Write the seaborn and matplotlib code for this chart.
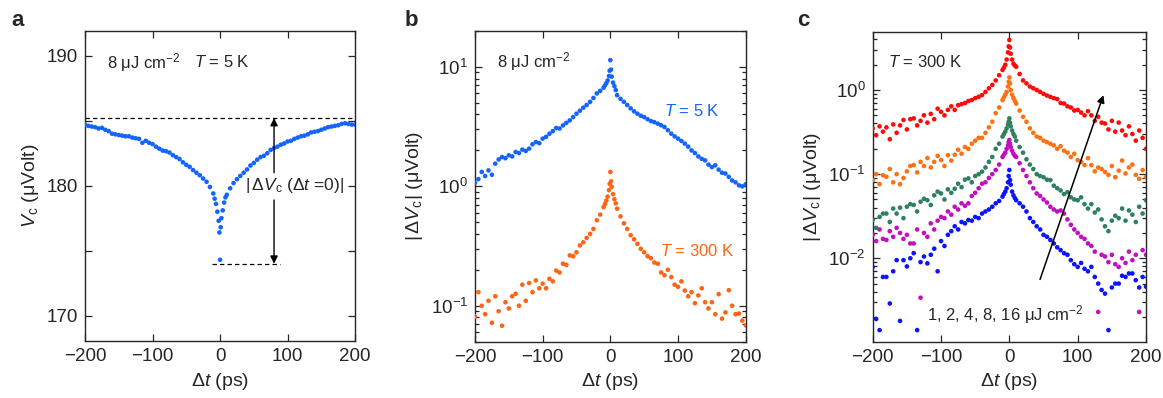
import numpy as np
import pandas as pd
import matplotlib.pyplot as plt
import seaborn as sns
from matplotlib.ticker import MultipleLocator, LogLocator, NullFormatter

sns.set_style("ticks")
plt.rcParams["font.family"] = ["Liberation Sans", "DejaVu Sans"]
plt.rcParams["mathtext.fontset"] = "custom"
plt.rcParams["mathtext.rm"] = "Liberation Sans"
plt.rcParams["mathtext.it"] = "Liberation Sans:italic"
plt.rcParams["mathtext.bf"] = "Liberation Sans:bold"
plt.rcParams["axes.unicode_minus"] = True

# delay grid (ps), shared by all series
delay = [-200, -195, -190, -185, -180, -175, -170, -165, -160, -155, -150, -145, -140,
         -135, -130, -125, -120, -115, -110, -105, -100, -95, -90, -85, -80, -75, -70,
         -65, -60, -55, -50, -45, -40, -35, -30, -25, -20, -15, -10,
         -8, -6, -4, -2, -1, 0, 1, 2, 4, 6, 8,
         10, 15, 20, 25, 30, 35, 40, 45, 50, 55, 60, 65, 70, 75, 80, 85, 90, 95, 100,
         105, 110, 115, 120, 125, 130, 135, 140, 145, 150, 155, 160, 165, 170, 175, 180,
         185, 190, 195, 200]

# panel a: Vc at T = 5 K (uV)
vc_5k = [184.7, 184.6, 184.55, 184.5, 184.4, 184.45, 184.3, 184.2, 184.0, 183.95, 183.9,
         183.85, 183.8, 183.8, 183.7, 183.65, 183.6, 183.3, 183.45, 183.3, 183.2, 183.0,
         182.85, 182.7, 182.65, 182.55, 182.35, 182.2, 182.05, 181.8, 181.6, 181.45, 181.2,
         181.0, 180.8, 180.55, 180.3, 179.9, 179.4,
         179.0, 178.6, 178.0, 177.3, 176.4, 174.3, 176.8, 177.5, 178.1, 178.7, 179.1,
         179.3, 179.8, 180.2, 180.5, 180.75, 181.0, 181.25, 181.55, 181.75, 182.0, 182.2,
         182.3, 182.5, 182.75, 182.9, 183.0, 183.15, 183.25, 183.4, 183.45, 183.6, 183.7,
         183.8, 183.85, 183.95, 184.1, 184.15, 184.2, 184.3, 184.4, 184.5, 184.55, 184.6,
         184.65, 184.75, 184.8, 184.75, 184.7, 184.7]
ref_level = 185.2
min_level = 174.0

# panel b: |dVc| at 8 uJ/cm2
dv_5k = [1.07, 1.15, 1.32, 1.22, 1.36, 1.25, 1.55, 1.68, 1.76, 1.72, 1.82, 1.78, 1.94,
         1.90, 2.03, 1.98, 2.07, 2.25, 2.35, 2.30, 2.51, 2.60, 2.76, 2.90, 3.08, 3.05, 3.24,
         3.40, 3.57, 3.80, 4.06, 4.30, 4.56, 4.80, 5.10, 5.50, 6.0, 6.3, 6.7,
         7.0, 7.3, 7.7, 8.4, 9.3, 11.4, 9.5, 8.3, 7.4, 6.9, 6.4,
         5.8, 5.4, 5.1, 4.8, 4.5, 4.25, 4.06, 3.90, 3.80, 3.65, 3.52, 3.45, 3.35, 3.25, 3.14,
         2.95, 2.76, 2.62, 2.51, 2.40, 2.28, 2.15, 2.00, 1.90, 1.78, 1.70, 1.65, 1.52, 1.45,
         1.50, 1.38, 1.30, 1.28, 1.20, 1.12, 1.08, 1.02, 1.00, 1.04]
dv_300k = [0.081, 0.13, 0.10, 0.085, 0.11, 0.072, 0.12, 0.09, 0.068, 0.107, 0.095, 0.12,
           0.126, 0.10, 0.15, 0.11, 0.155, 0.13, 0.163, 0.14, 0.153, 0.14, 0.168, 0.16,
           0.197, 0.19, 0.225, 0.22, 0.264, 0.26, 0.28, 0.32, 0.34, 0.37, 0.40, 0.44, 0.52,
           0.58, 0.67,
           0.71, 0.76, 0.82, 0.93, 1.05, 1.32, 1.10, 0.99, 0.86, 0.78, 0.72,
           0.65, 0.56, 0.49, 0.44, 0.39, 0.36, 0.33, 0.30, 0.28, 0.26, 0.25, 0.23, 0.225,
           0.19, 0.18, 0.20, 0.174, 0.15, 0.144, 0.16, 0.134, 0.12, 0.13, 0.105, 0.122, 0.14,
           0.107, 0.095, 0.107, 0.085, 0.125, 0.078, 0.088, 0.135, 0.10, 0.085, 0.086, 0.075,
           0.0685]

# panel c: |dVc| at T = 300 K for several fluences
dv_16 = [0.35, 0.29, 0.37, 0.32, 0.36, 0.26, 0.39, 0.31, 0.38, 0.44, 0.34, 0.45, 0.46,
         0.38, 0.43, 0.50, 0.41, 0.52, 0.45, 0.60, 0.55, 0.50, 0.58, 0.64, 0.58, 0.66, 0.68,
         0.70, 0.74, 0.76, 0.80, 0.83, 0.87, 0.95, 1.05, 1.15, 1.30, 1.50, 1.73,
         1.85, 2.0, 2.3, 2.8, 3.3, 3.93, 3.2, 2.7, 2.3, 2.05, 1.95,
         1.89, 1.55, 1.30, 1.20, 1.10, 1.05, 1.00, 0.95, 0.90, 0.86, 0.83, 0.80, 0.78, 0.70,
         0.69, 0.64, 0.62, 0.57, 0.58, 0.54, 0.50, 0.56, 0.50, 0.43, 0.48, 0.41, 0.40, 0.34,
         0.43, 0.32, 0.41, 0.33, 0.29, 0.37, 0.30, 0.25, 0.33, 0.27, 0.20]
dv_8 = [0.085, 0.10, 0.076, 0.097, 0.093, 0.115, 0.080, 0.10, 0.076, 0.09, 0.108, 0.125,
        0.128, 0.105, 0.14, 0.125, 0.155, 0.12, 0.14, 0.165, 0.147, 0.125, 0.168, 0.145,
        0.17, 0.195, 0.175, 0.21, 0.20, 0.23, 0.25, 0.27, 0.27, 0.31, 0.36, 0.42, 0.53,
        0.62, 0.76,
        0.82, 0.88, 0.95, 1.1, 1.25, 1.41, 1.2, 1.0, 0.88, 0.80, 0.74,
        0.69, 0.57, 0.48, 0.42, 0.35, 0.31, 0.28, 0.27, 0.25, 0.24, 0.23, 0.22, 0.20, 0.215,
        0.19, 0.18, 0.16, 0.175, 0.147, 0.14, 0.128, 0.155, 0.128, 0.108, 0.12, 0.115, 0.106,
        0.098, 0.125, 0.092, 0.11, 0.145, 0.102, 0.12, 0.13, 0.098, 0.088, 0.112, 0.093]
dv_4 = [0.0285, 0.023, 0.031, 0.034, 0.034, 0.027, 0.039, 0.034, 0.040, 0.030, 0.041,
        0.044, 0.043, 0.036, 0.047, 0.051, 0.049, 0.043, 0.056, 0.062, 0.059, 0.050, 0.066,
        0.060, 0.067, 0.077, 0.070, 0.086, 0.089, 0.080, 0.095, 0.100, 0.107, 0.12, 0.14,
        0.16, 0.20, 0.23, 0.28,
        0.30, 0.32, 0.35, 0.39, 0.42, 0.46, 0.41, 0.37, 0.33, 0.30, 0.28,
        0.25, 0.21, 0.18, 0.15, 0.13, 0.115, 0.10, 0.095, 0.092, 0.086, 0.085, 0.073, 0.068,
        0.064, 0.058, 0.061, 0.053, 0.050, 0.049, 0.053, 0.044, 0.039, 0.044, 0.035, 0.038,
        0.029, 0.024, 0.021, 0.028, 0.032, 0.030, 0.039, 0.028, 0.037, 0.033, 0.027, 0.041,
        0.034, 0.049]
dv_2 = [0.019, 0.016, 0.022, 0.017, 0.0165, 0.021, 0.018, 0.023, 0.020, 0.017, 0.019,
        0.015, 0.015, 0.022, 0.0034, 0.020, 0.018, 0.026, 0.022, 0.028, 0.031, 0.030, 0.036,
        0.033, 0.041, 0.038, 0.045, 0.042, 0.045, 0.055, 0.060, 0.068, 0.077, 0.080, 0.090,
        0.10, 0.112, 0.13, 0.16,
        0.17, 0.18, 0.20, 0.22, 0.24, 0.255, 0.23, 0.21, 0.19, 0.175, 0.165,
        0.16, 0.135, 0.112, 0.095, 0.080, 0.068, 0.059, 0.055, 0.050, 0.046, 0.041, 0.038,
        0.036, 0.037, 0.034, 0.029, 0.025, 0.022, 0.020, 0.018, 0.017, 0.015, 0.014, 0.012,
        0.0023, 0.011, 0.0105, 0.009, 0.011, 0.0085, 0.0079, 0.010, 0.0088, 0.012, 0.0095,
        0.011, 0.0023, 0.0125, 0.011]
dv_1 = [0.0079, 0.0019, 0.0014, 0.0060, 0.0060, 0.0029, 0.0070, 0.0095, 0.0018, 0.0095,
        0.0080, 0.0100, 0.0115, 0.0014, 0.0090, 0.0105, 0.0087, 0.0110, 0.0130, 0.0070,
        0.016, 0.0140, 0.019, 0.021, 0.024, 0.022, 0.027, 0.026, 0.0285, 0.028, 0.031, 0.030,
        0.034, 0.036, 0.038, 0.041, 0.045, 0.048, 0.054,
        0.058, 0.062, 0.068, 0.080, 0.095, 0.112, 0.085, 0.075, 0.062, 0.056, 0.052,
        0.049, 0.045, 0.041, 0.036, 0.030, 0.027, 0.024, 0.022, 0.019, 0.018, 0.0165, 0.015,
        0.0135, 0.0125, 0.0115, 0.0110, 0.0095, 0.0085, 0.0079, 0.0088, 0.0075, 0.0070,
        0.0079, 0.0060, 0.0050, 0.0042, 0.0038, 0.0014, 0.0045, 0.0050, 0.0050, 0.0062,
        0.0060, 0.0066, 0.0066, 0.0055, 0.0045, 0.0060, 0.0046]

fluences = ["1", "2", "4", "8", "16"]
fluence_colors = ["#0a14ff", "#c010c0", "#2e8060", "#ff7010", "#ff0a0a"]
blue = "#1464ff"
orange = "#ff6414"

df_a = pd.DataFrame({"t": delay, "v": vc_5k})
df_b = pd.concat([pd.DataFrame({"t": delay, "v": dv_5k, "T": "5 K"}),
                  pd.DataFrame({"t": delay, "v": dv_300k, "T": "300 K"})])
df_c = pd.concat([pd.DataFrame({"t": delay, "v": vals, "F": f})
                  for f, vals in zip(fluences, [dv_1, dv_2, dv_4, dv_8, dv_16])])

fig = plt.figure(figsize=(11.63, 3.98), dpi=100)
ax_a = fig.add_axes([0.0731, 0.1432, 0.2322, 0.7789])
ax_b = fig.add_axes([0.4084, 0.1415, 0.2328, 0.7806])
ax_c = fig.add_axes([0.7504, 0.1415, 0.2350, 0.7773])

fs = 13.5     # tick labels
fl = 14       # axis labels
fa = 12       # annotations
dot = 11

for ax in (ax_a, ax_b, ax_c):
    for sp in ax.spines.values():
        sp.set_linewidth(1.0)
    ax.tick_params(which="both", direction="in", top=True, right=True,
                   labelsize=fs, width=0.9, pad=5)
    ax.tick_params(which="major", length=5)
    ax.tick_params(which="minor", length=3)
    ax.set_xlim(-200, 200)
    ax.set_xticks([-200, -100, 0, 100, 200])

# ---- panel a
sns.scatterplot(data=df_a, x="t", y="v", ax=ax_a, color=blue, s=dot,
                edgecolor="none", legend=False, zorder=3)
ax_a.set_ylim(168.05, 191.9)
ax_a.set_yticks([170, 180, 190])
ax_a.yaxis.set_minor_locator(MultipleLocator(5))
ax_a.tick_params(axis="y", which="minor", length=5)
ax_a.axhline(ref_level, color="k", lw=0.9, ls=(0, (3.5, 2.5)))
ax_a.plot([-12, 89], [min_level, min_level], color="k", lw=0.9, ls=(0, (3.5, 2.5)))
arrow = dict(arrowstyle="-|>", color="k", lw=1.0, mutation_scale=11,
             shrinkA=0, shrinkB=0)
ax_a.annotate("", xy=(80, ref_level), xytext=(80, 181.0), arrowprops=arrow)
ax_a.annotate("", xy=(80, min_level), xytext=(80, 178.9), arrowprops=arrow)
ax_a.text(110, 180, r"$|\,\Delta V_\mathrm{c}$ ($\Delta t$ =0)$|$", fontsize=fa + 0.5,
          ha="center", va="center")
ax_a.text(-168, 189.5, "8 μJ cm$^{-2}$", fontsize=fa, va="center")
ax_a.text(-38, 189.5, "$T$ = 5 K", fontsize=fa, va="center")
ax_a.set_xlabel(r"Δ$t$ (ps)", fontsize=fl)
ax_a.set_ylabel(r"$V_\mathrm{c}$ (μVolt)", fontsize=fl, labelpad=4)

# ---- panel b
sns.scatterplot(data=df_b, x="t", y="v", hue="T", palette={"5 K": blue, "300 K": orange},
                ax=ax_b, s=dot, edgecolor="none", legend=False, zorder=3)
ax_b.set_yscale("log")
ax_b.set_ylim(0.05, 20)
ax_b.yaxis.set_major_locator(LogLocator(base=10, numticks=10))
ax_b.yaxis.set_minor_locator(LogLocator(base=10, subs=np.arange(2, 10), numticks=10))
ax_b.yaxis.set_minor_formatter(NullFormatter())
ax_b.text(-168, 11, "8 μJ cm$^{-2}$", fontsize=fa, va="center")
ax_b.text(80, 4.3, "$T$ = 5 K", fontsize=fa, color=blue, va="center")
ax_b.text(73, 0.29, "$T$ = 300 K", fontsize=fa, color=orange, va="center")
ax_b.set_xlabel(r"Δ$t$ (ps)", fontsize=fl)
ax_b.set_ylabel(r"$|\,\Delta V_\mathrm{c}|$ (μVolt)", fontsize=fl, labelpad=4)

# ---- panel c
sns.scatterplot(data=df_c, x="t", y="v", hue="F",
                palette=dict(zip(fluences, fluence_colors)),
                ax=ax_c, s=dot, edgecolor="none", legend=False, zorder=3)
ax_c.set_yscale("log")
ax_c.set_ylim(0.00102, 4.85)
ax_c.yaxis.set_major_locator(LogLocator(base=10, numticks=10))
ax_c.yaxis.set_minor_locator(LogLocator(base=10, subs=np.arange(2, 10), numticks=10))
ax_c.yaxis.set_minor_formatter(NullFormatter())
ax_c.set_yticks([0.01, 0.1, 1])
ax_c.annotate("", xy=(137.6, 0.87), xytext=(44.9, 0.0056),
              arrowprops=dict(arrowstyle="-|>", color="k", lw=1.1, mutation_scale=11,
                              shrinkA=0, shrinkB=0))
ax_c.text(-178, 2.17, "$T$ = 300 K", fontsize=fa, va="center")
ax_c.text(-120, 0.00212, "1, 2, 4, 8, 16 μJ cm$^{-2}$", fontsize=fa, va="center")
ax_c.set_xlabel(r"Δ$t$ (ps)", fontsize=fl)
ax_c.set_ylabel(r"$|\,\Delta V_\mathrm{c}|$ (μVolt)", fontsize=fl, labelpad=4)

for lbl, x in zip("abc", [0.010, 0.348, 0.685]):
    fig.text(x, 0.975, lbl, fontsize=16, fontweight="bold", va="top")

fig.savefig("out.png", dpi=100)
